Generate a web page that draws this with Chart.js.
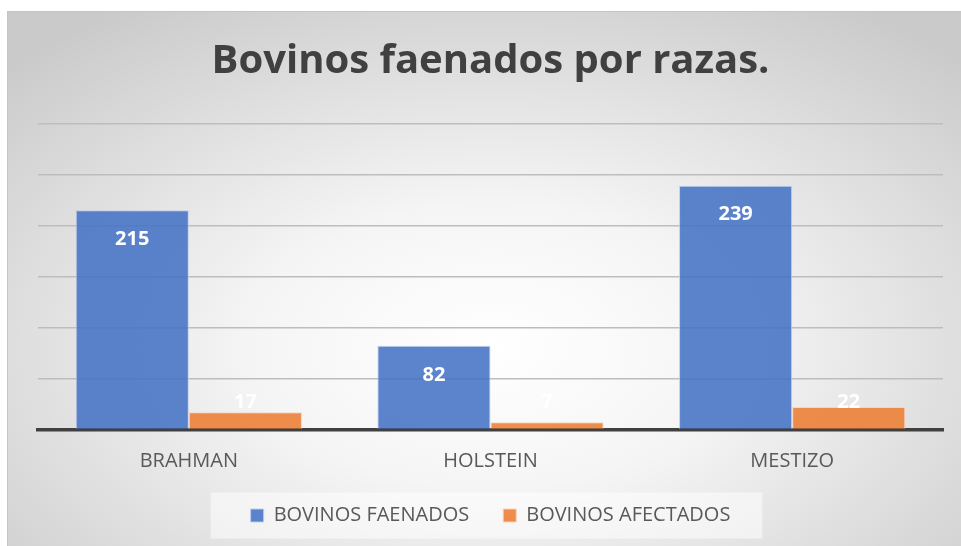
<!DOCTYPE html>
<html>
<head>
<meta charset="utf-8">
<script src="https://cdn.jsdelivr.net/npm/chart.js@4.4.1/dist/chart.umd.min.js"></script>
<style>
  html, body { margin: 0; padding: 0; background: #fff; overflow: hidden; }
  #box {
    position: absolute; left: 7px; top: 11px;
    width: 965px; height: 540px;
    border: 1px solid #c4c4c4;
    background: radial-gradient(ellipse 70% 75% at 50% 62%, #ffffff 0%, #f5f5f5 35%, #dedede 70%, #cacaca 100%);
  }
  #myChart { display: block; }
</style>
</head>
<body>
<div id="box"><canvas id="myChart" width="965" height="540"></canvas></div>
<script>
var razas = ['BRAHMAN', 'HOLSTEIN', 'MESTIZO'];
var faenados = [215, 82, 239];
var afectados = [17, 7, 22];
var titulo = 'Bovinos faenados por razas.';

// etiquetas blancas dentro de las barras (como Excel "extremo interno")
var etiquetas = {
    id: 'etiquetas',
    afterDatasetsDraw: function (chart) {
        var ctx = chart.ctx;
        ctx.save();
        ctx.font = 'bold 20px "Open Sans"';
        ctx.fillStyle = '#ffffff';
        ctx.textAlign = 'center';
        ctx.textBaseline = 'middle';
        chart.data.datasets.forEach(function (ds, i) {
            chart.getDatasetMeta(i).data.forEach(function (bar, j) {
                var y = Math.min(bar.y + 29, bar.base - 26);
                ctx.fillText(ds.data[j], bar.x, y);
            });
        });
        ctx.restore();
    }
};

// fondo claro detras de la leyenda
var fondoLeyenda = {
    id: 'fondoLeyenda',
    beforeDraw: function (chart) {
        var boxes = chart.legend.legendHitBoxes;
        if (!boxes || !boxes.length) return;
        var first = boxes[0], last = boxes[boxes.length - 1];
        var cy = first.top + first.height / 2;
        var ctx = chart.ctx;
        ctx.save();
        ctx.fillStyle = 'rgba(255,255,255,0.5)';
        ctx.fillRect(first.left - 40, cy - 23, (last.left + last.width + 32) - (first.left - 40), 46);
        ctx.restore();
    }
};

const ctx = document.getElementById('myChart');

new Chart(ctx, {
    type: 'bar',
    data: {
        labels: razas,
        datasets: [{
            label: 'BOVINOS FAENADOS',
            data: faenados,
            backgroundColor: 'rgba(68, 114, 196, 0.87)',
            borderColor: 'rgba(190, 205, 235, 0.9)',
            borderWidth: 1,
            categoryPercentage: 0.75,
            barPercentage: 1.0
        },
        {
            label: 'BOVINOS AFECTADOS',
            data: afectados,
            backgroundColor: 'rgba(237, 125, 49, 0.87)',
            borderColor: 'rgba(250, 210, 185, 0.9)',
            borderWidth: 1,
            categoryPercentage: 0.75,
            barPercentage: 1.0
        }]
    },
    options: {
        responsive: false,
        animation: false,
        layout: { padding: { left: 30, right: 30, top: 0, bottom: 16.5 } },
        plugins: {
            title: {
                display: true,
                text: titulo,
                color: '#404040',
                font: { family: '"Open Sans"', size: 40, weight: 'bold' },
                padding: { top: 25.7, bottom: 37.8 }
            },
            legend: {
                position: 'bottom',
                labels: {
                    color: '#595959',
                    font: { family: '"Open Sans"', size: 20 },
                    boxWidth: 13,
                    boxHeight: 13,
                    padding: 34
                }
            },
            tooltip: { enabled: false }
        },
        scales: {
            x: {
                grid: { display: false, drawTicks: false, tickLength: 0 },
                border: { display: true, color: '#404040', width: 3.5 },
                ticks: {
                    color: '#595959',
                    font: { family: '"Open Sans"', size: 20, lineHeight: 1 },
                    padding: 22
                },
                afterFit: function (scale) { scale.height = 42; }
            },
            y: {
                min: 0,
                max: 300,
                ticks: { display: false, stepSize: 50 },
                grid: { color: '#bdbdbd', lineWidth: 1.5, drawTicks: false, tickLength: 0 },
                border: { display: false }
            }
        }
    },
    plugins: [fondoLeyenda, etiquetas]
});
</script>
</body>
</html>
